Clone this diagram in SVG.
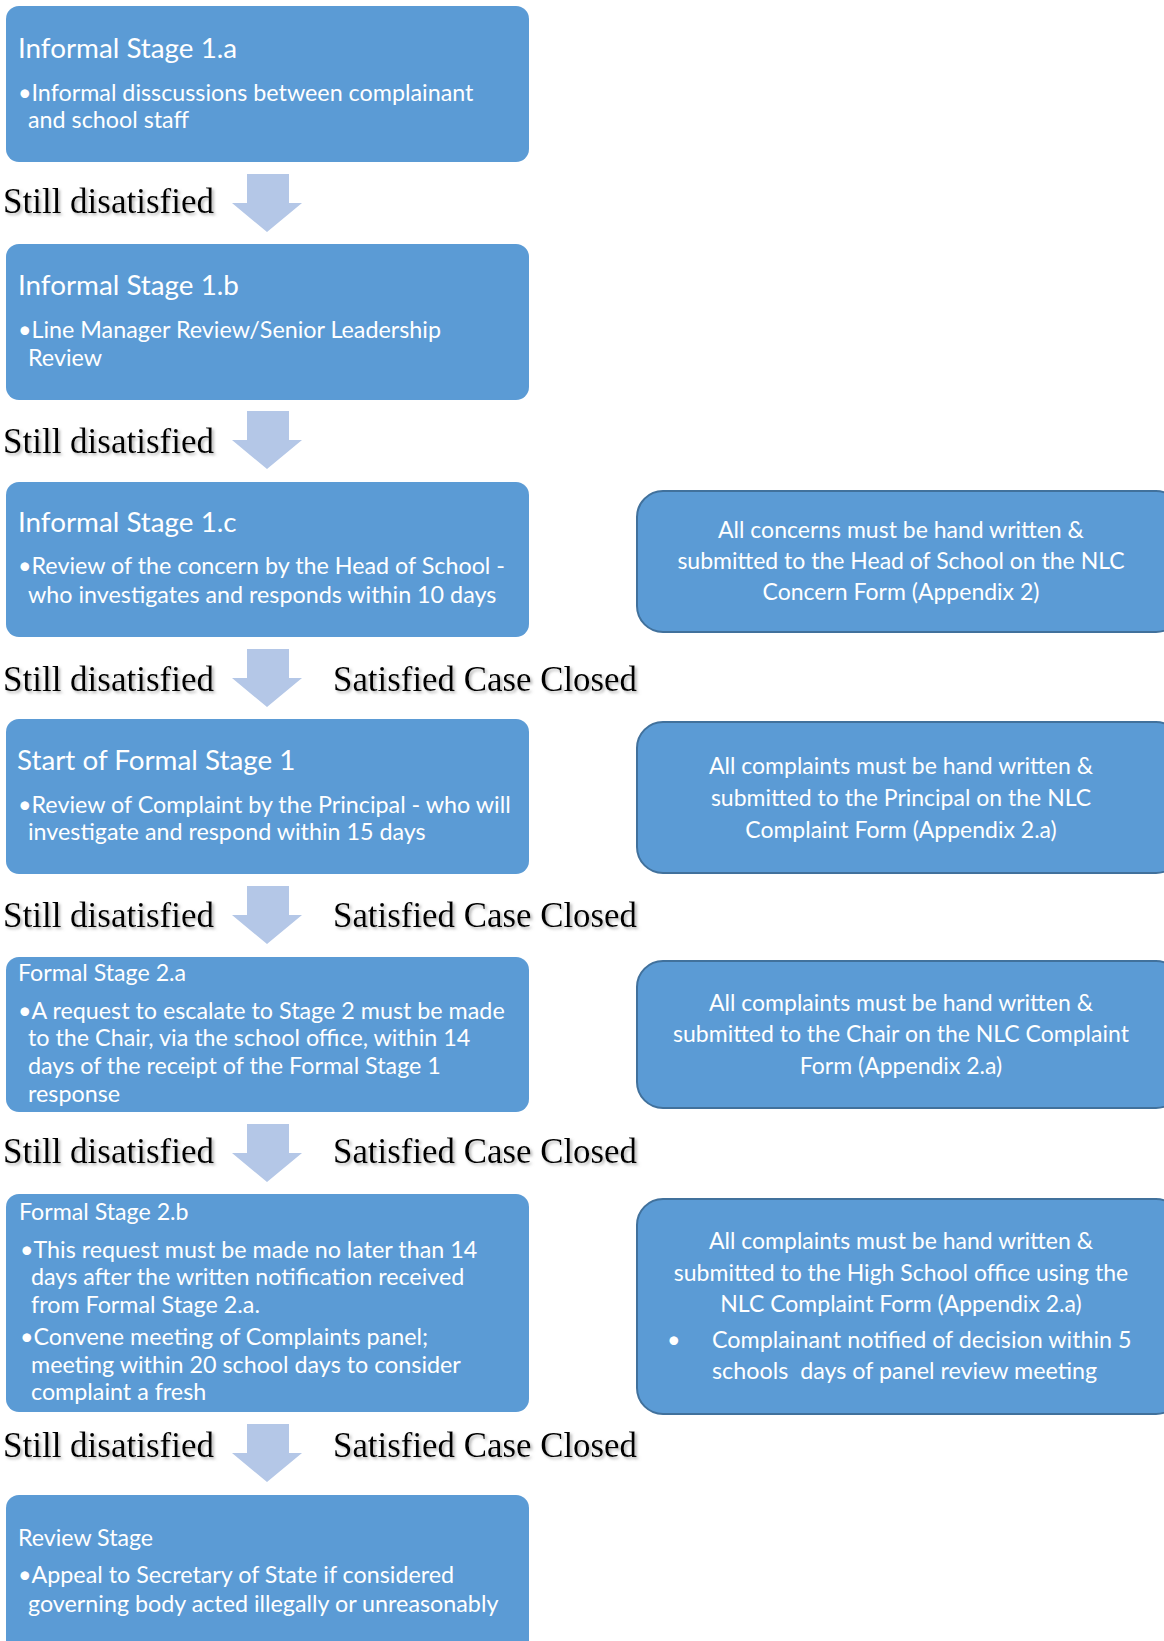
<svg xmlns="http://www.w3.org/2000/svg" xmlns:xlink="http://www.w3.org/1999/xlink" width="1164" height="1641" viewBox="0 0 1164 1641">
<defs>
<style>
.box{fill:#5b9bd5;}
.rbox{fill:#5b9bd5;stroke:#41719c;stroke-width:2;}
.t{font-family:Lato,"Open Sans","Liberation Sans",sans-serif;fill:#ffffff;}
.title{font-size:27.8px;}
.title2{font-size:23.2px;}
.body{font-size:23.3px;}
.rt{font-family:Lato,"Open Sans","Liberation Sans",sans-serif;fill:#ffffff;font-size:23px;text-anchor:middle;}
.lbl{font-family:"Liberation Serif","Times New Roman",serif;font-size:36px;fill:#000000;filter:url(#sh);}
.arrow{fill:#b4c7e7;}
</style>
<filter id="sh" x="-5%" y="-20%" width="115%" height="160%">
<feDropShadow dx="2" dy="2" stdDeviation="1.5" flood-color="#808080" flood-opacity="0.6"/>
</filter>
<path id="arr" d="M247 0 H289 V29 H302 L267 58 L232 29 H247 Z"/>
</defs>
<rect width="1164" height="1641" fill="#ffffff"/>

<g id="connectors">
<use xlink:href="#arr" class="arrow" transform="translate(0,174)"/>
<use xlink:href="#arr" class="arrow" transform="translate(0,411)"/>
<use xlink:href="#arr" class="arrow" transform="translate(0,649)"/>
<use xlink:href="#arr" class="arrow" transform="translate(0,886)"/>
<use xlink:href="#arr" class="arrow" transform="translate(0,1124)"/>
<use xlink:href="#arr" class="arrow" transform="translate(0,1424)"/>
</g>

<g id="labels">
<text class="lbl" x="3" y="213" textLength="211" lengthAdjust="spacingAndGlyphs">Still disatisfied</text>
<text class="lbl" x="3" y="453" textLength="211" lengthAdjust="spacingAndGlyphs">Still disatisfied</text>
<text class="lbl" x="3" y="691" textLength="211" lengthAdjust="spacingAndGlyphs">Still disatisfied</text>
<text class="lbl" x="333" y="691" textLength="304" lengthAdjust="spacingAndGlyphs">Satisfied Case Closed</text>
<text class="lbl" x="3" y="927" textLength="211" lengthAdjust="spacingAndGlyphs">Still disatisfied</text>
<text class="lbl" x="333" y="927" textLength="304" lengthAdjust="spacingAndGlyphs">Satisfied Case Closed</text>
<text class="lbl" x="3" y="1163" textLength="211" lengthAdjust="spacingAndGlyphs">Still disatisfied</text>
<text class="lbl" x="333" y="1163" textLength="304" lengthAdjust="spacingAndGlyphs">Satisfied Case Closed</text>
<text class="lbl" x="3" y="1457" textLength="211" lengthAdjust="spacingAndGlyphs">Still disatisfied</text>
<text class="lbl" x="333" y="1457" textLength="304" lengthAdjust="spacingAndGlyphs">Satisfied Case Closed</text>
</g>

<g id="stage1a">
<rect class="box" x="6" y="6" width="523" height="156" rx="13"/>
<text class="t title" x="18" y="58">Informal Stage 1.a</text>
<text class="t body" x="18" y="101">•Informal disscussions between complainant</text>
<text class="t body" x="28" y="128">and school staff</text>
</g>

<g id="stage1b">
<rect class="box" x="6" y="244" width="523" height="156" rx="13"/>
<text class="t title" x="18" y="295">Informal Stage 1.b</text>
<text class="t body" x="18" y="338">•Line Manager Review/Senior Leadership</text>
<text class="t body" x="28" y="366">Review</text>
</g>

<g id="stage1c">
<rect class="box" x="6" y="482" width="523" height="155" rx="13"/>
<text class="t title" x="18" y="532">Informal Stage 1.c</text>
<text class="t body" x="18" y="574">•Review of the concern by the Head of School -</text>
<text class="t body" x="28" y="603">who investigates and responds within 10 days</text>
</g>

<g id="formal1">
<rect class="box" x="6" y="719" width="523" height="155" rx="13"/>
<text class="t title" x="17" y="770">Start of Formal Stage 1</text>
<text class="t body" x="18" y="813">•Review of Complaint by the Principal - who will</text>
<text class="t body" x="28" y="840">investigate and respond within 15 days</text>
</g>

<g id="formal2a">
<rect class="box" x="6" y="957" width="523" height="155" rx="13"/>
<text class="t title2" x="18" y="981">Formal Stage 2.a</text>
<text class="t body" x="18" y="1019">•A request to escalate to Stage 2 must be made</text>
<text class="t body" x="28" y="1046">to the Chair, via the school office, within 14</text>
<text class="t body" x="28" y="1074">days of the receipt of the Formal Stage 1</text>
<text class="t body" x="28" y="1102">response</text>
</g>

<g id="formal2b">
<rect class="box" x="6" y="1194" width="523" height="218" rx="13"/>
<text class="t title2" x="19" y="1220">Formal Stage 2.b</text>
<text class="t body" x="20" y="1258">•This request must be made no later than 14</text>
<text class="t body" x="31" y="1285">days after the written notification received</text>
<text class="t body" x="31" y="1313">from Formal Stage 2.a.</text>
<text class="t body" x="20" y="1345">•Convene meeting of Complaints panel;</text>
<text class="t body" x="31" y="1373">meeting within 20 school days to consider</text>
<text class="t body" x="31" y="1400">complaint a fresh</text>
</g>

<g id="review">
<rect class="box" x="6" y="1495" width="523" height="160" rx="13"/>
<text class="t title2" x="18" y="1546">Review Stage</text>
<text class="t body" x="18" y="1583">•Appeal to Secretary of State if considered</text>
<text class="t body" x="28" y="1612">governing body acted illegally or unreasonably</text>
</g>

<g id="note1">
<rect class="rbox" x="637" y="491" width="545" height="141" rx="26"/>
<text class="rt" x="901" y="538">All concerns must be hand written &amp;</text>
<text class="rt" x="901" y="569">submitted to the Head of School on the NLC</text>
<text class="rt" x="901" y="600">Concern Form (Appendix 2)</text>
</g>

<g id="note2">
<rect class="rbox" x="637" y="722" width="545" height="151" rx="26"/>
<text class="rt" x="901" y="774">All complaints must be hand written &amp;</text>
<text class="rt" x="901" y="806">submitted to the Principal on the NLC</text>
<text class="rt" x="901" y="838">Complaint Form (Appendix 2.a)</text>
</g>

<g id="note3">
<rect class="rbox" x="637" y="961" width="545" height="147" rx="26"/>
<text class="rt" x="901" y="1011">All complaints must be hand written &amp;</text>
<text class="rt" x="901" y="1042">submitted to the Chair on the NLC Complaint</text>
<text class="rt" x="901" y="1074">Form (Appendix 2.a)</text>
</g>

<g id="note4">
<rect class="rbox" x="637" y="1199" width="545" height="215" rx="26"/>
<text class="rt" x="901" y="1249">All complaints must be hand written &amp;</text>
<text class="rt" x="901" y="1281">submitted to the High School office using the</text>
<text class="rt" x="901" y="1312">NLC Complaint Form (Appendix 2.a)</text>
<text class="t body" x="667" y="1348">•</text>
<text class="t body" x="712" y="1348">Complainant notified of decision within 5</text>
<text class="t body" x="712" y="1379">schools&#160; days of panel review meeting</text>
</g>
</svg>
